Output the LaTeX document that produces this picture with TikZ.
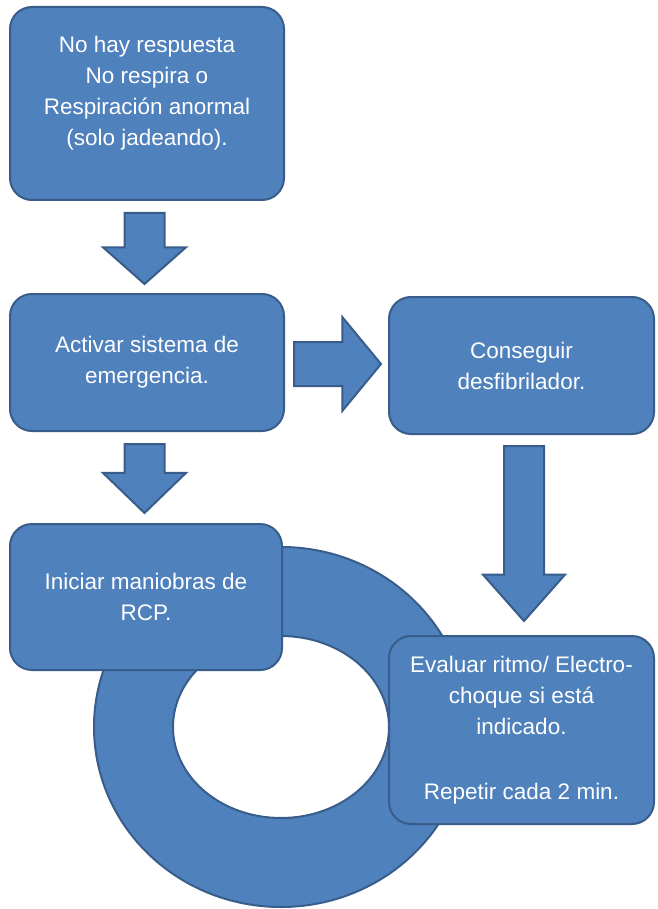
\documentclass[tikz,border=0pt]{standalone}
\usepackage{fontspec}
\setmainfont{Liberation Sans}
\usetikzlibrary{shapes.arrows,calc}
\definecolor{azul}{HTML}{4F81BD}
\definecolor{borde}{HTML}{385D8A}

\begin{document}
\begin{tikzpicture}[x=1pt,y=-1pt,align=center]
\tikzstyle{obj} = [font=\fontsize{22.5}{31}\selectfont,rectangle,draw=borde,fill=azul,text=white,line width=2pt,rounded corners=22pt,inner sep=0pt]
\tikzstyle{flecha} = [single arrow,draw=borde,fill=azul,line width=2pt,inner xsep=0pt,inner ysep=19pt,minimum width=0pt,single arrow head indent=0pt,anchor=tail]
\useasboundingbox (0,0) rectangle (657,909);
% anillo detras de las cajas
\draw[fill=azul,draw=borde,line width=2pt,even odd rule] (281,727) ellipse [x radius=187, y radius=180] (281,727) ellipse [x radius=108, y radius=91];
\node[obj,minimum width=274,minimum height=193] (resp) at (147,103.5) {No hay respuesta\\No respira o\\Respiración anormal\\(solo jadeando).\\[-6pt]\mbox{}};
\node[obj,minimum width=274,minimum height=137] (act) at (147,362.5) {Activar sistema de\\emergencia.};
\node[obj,minimum width=265,minimum height=137] (desf) at (521.5,365.5) {Conseguir\\desfibrilador.};
\node[obj,minimum width=272,minimum height=146] (rcp) at (146,597) {Iniciar maniobras de\\RCP.};
\node[obj,minimum width=265,minimum height=188] (eval) at (521.5,730) {Evaluar ritmo/ Electro-\\choque si está\\indicado.\\[34pt]Repetir cada 2 min.};
\node[flecha,rotate=-90,minimum height=71,single arrow head extend=21.5pt,single arrow tip angle=97] (f1) at ($(resp.south)+(-2.5,11)$) {};
\node[flecha,rotate=-90,minimum height=69,single arrow head extend=21.5pt,single arrow tip angle=92] (f2) at ($(act.south)+(-2.5,11)$) {};
\node[flecha,minimum height=87,inner ysep=21pt,single arrow head extend=25pt,single arrow tip angle=101] (f3) at ($(act.east)+(8,1.5)$) {};
\node[flecha,rotate=-90,minimum height=175,single arrow head extend=21pt,single arrow tip angle=83] (f4) at ($(desf.south)+(2.5,10)$) {};
\end{tikzpicture}
\end{document}
